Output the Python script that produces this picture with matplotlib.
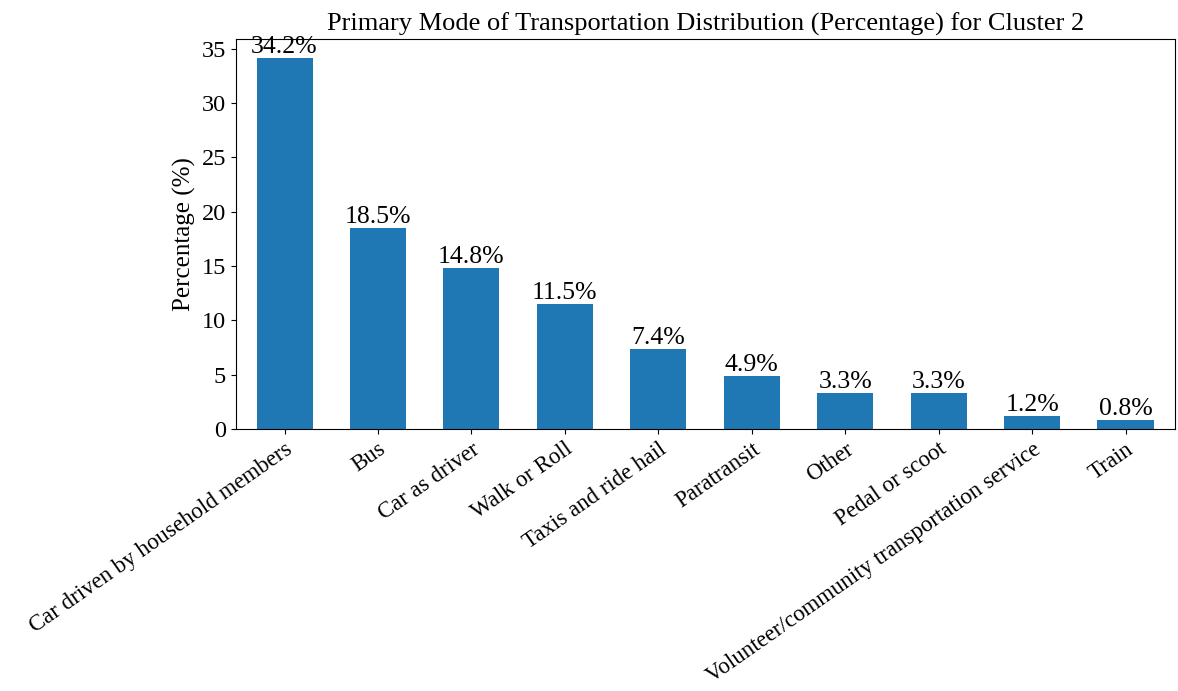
import matplotlib
matplotlib.use('Agg')
import matplotlib.pyplot as plt

modes = ["Car driven by household members", "Bus", "Car as driver", "Walk or Roll",
         "Taxis and ride hail", "Paratransit", "Other", "Pedal or scoot",
         "Volunteer/community transportation service", "Train"]
percentages = [34.2, 18.5, 14.8, 11.5, 7.4, 4.9, 3.3, 3.3, 1.2, 0.8]

plt.rcParams['font.family'] = ['Liberation Serif', 'DejaVu Serif']

fig = plt.figure(figsize=(11.78, 6.91), dpi=100)
ax = fig.add_axes([0.2003, 0.3792, 0.7972, 0.5644])

x = range(len(modes))
bars = ax.bar(x, percentages, width=0.6, color='#1f77b4')
for b, v in zip(bars, percentages):
    ax.text(b.get_x() + b.get_width() / 2, v, f"{v}%", ha='center', va='bottom', fontsize=18.5)

ax.set_xlim(-0.52, 9.53)
ax.set_ylim(0, 35.91)
ax.set_xticks(list(x))
ax.set_xticklabels(modes, rotation=35, ha='right', rotation_mode='anchor', fontsize=16.5)
ax.tick_params(axis='y', labelsize=17.5)
ax.set_ylabel("Percentage (%)", fontsize=18)
ax.set_title("Primary Mode of Transportation Distribution (Percentage) for Cluster 2", fontsize=19)

plt.savefig("out.png", dpi=100)
